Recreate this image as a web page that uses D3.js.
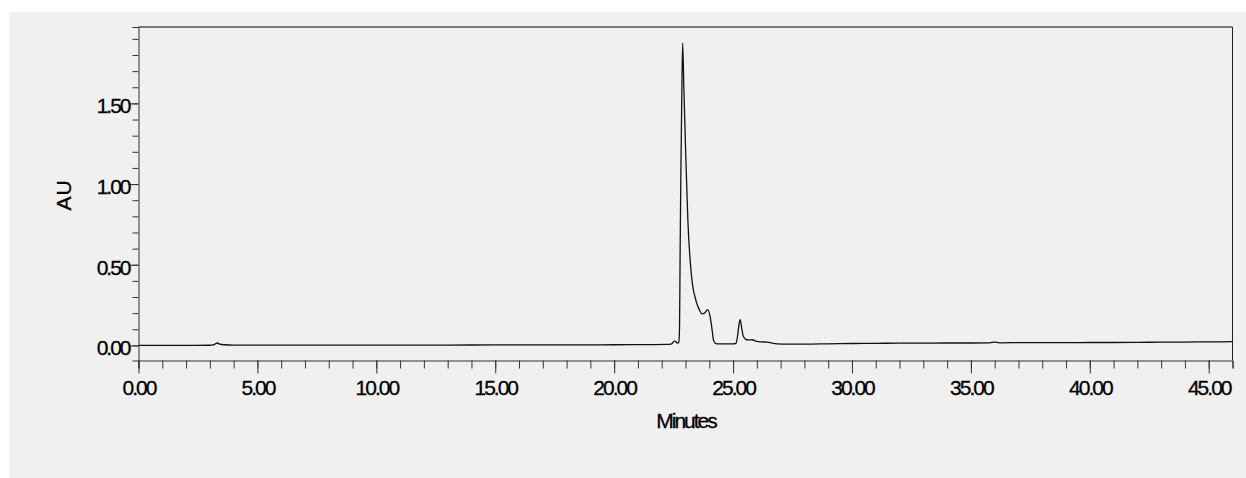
<!DOCTYPE html>
<html>
<head>
<meta charset="utf-8">
<script src="https://cdn.jsdelivr.net/npm/d3@7/dist/d3.min.js"></script>
<style>
html,body{margin:0;padding:0;background:#fff;}
svg{display:block;}
text{font-family:"Liberation Sans",Arial,sans-serif;fill:#000;stroke:#000;stroke-width:0.3px;}
</style>
</head>
<body>
<svg id="chart" width="1246" height="478"></svg>
<script>
// Retention time (minutes) and absorbance (AU)
const times = [0, 1, 2, 3.0, 3.15, 3.25, 3.32, 3.42, 3.6, 4.0, 5, 7, 10, 13, 15, 18, 20, 21.5, 22.2, 22.42, 22.53, 22.6, 22.67, 22.72, 22.75, 22.77, 22.80, 22.84, 22.88, 22.93, 23.01, 23.10, 23.23, 23.31, 23.40, 23.48, 23.58, 23.69, 23.80, 23.93, 24.04, 24.12, 24.18, 24.25, 24.32, 24.6, 25.0, 25.12, 25.20, 25.25, 25.30, 25.35, 25.42, 25.50, 25.56, 25.68, 25.80, 26.0, 26.2, 26.43, 26.65, 26.85, 27.3, 28, 29, 30, 31, 32, 33, 34, 35, 35.8, 36.0, 36.2, 37, 38, 39, 40, 41, 42, 43, 44, 45, 46];
const absorb = [0.000, 0.000, 0.000, 0.001, 0.004, 0.011, 0.015, 0.008, 0.004, 0.002, 0.002, 0.002, 0.002, 0.002, 0.003, 0.003, 0.004, 0.005, 0.006, 0.010, 0.027, 0.022, 0.014, 0.020, 0.120, 0.500, 1.000, 1.500, 1.874, 1.600, 1.186, 0.774, 0.465, 0.361, 0.300, 0.258, 0.222, 0.196, 0.200, 0.222, 0.175, 0.095, 0.031, 0.014, 0.010, 0.009, 0.009, 0.012, 0.070, 0.130, 0.159, 0.120, 0.062, 0.042, 0.035, 0.034, 0.035, 0.025, 0.022, 0.020, 0.014, 0.010, 0.008, 0.008, 0.010, 0.012, 0.013, 0.014, 0.014, 0.015, 0.015, 0.016, 0.021, 0.016, 0.017, 0.017, 0.017, 0.018, 0.018, 0.019, 0.020, 0.021, 0.022, 0.023];
const xMajorTicks = [0, 5, 10, 15, 20, 25, 30, 35, 40, 45];
const xTickLabels = ["0.00", "5.00", "10.00", "15.00", "20.00", "25.00", "30.00", "35.00", "40.00", "45.00"];
const yMajorTicks = [0, 0.5, 1.0, 1.5];
const yTickLabels = ["0.00", "0.50", "1.00", "1.50"];
const xMinorTicks = d3.range(0, 47, 1);
const yMinorTicks = d3.range(0, 20, 1).map(d => d / 10);

const svg = d3.select("#chart");
const W = 1246, H = 478;
const pLeft = 138.5, pTop = 27, pRight = 1232.5, pBottom = 360.5;

svg.append("rect").attr("x", 9).attr("y", 12).attr("width", W - 9).attr("height", H - 12).attr("fill", "#f0f0f0");

const x = d3.scaleLinear().domain([0, 46]).range([pLeft, pRight]);
const y = d3.scaleLinear().domain([-0.0935, 1.9735]).range([pBottom, pTop]);

// frame
svg.append("line").attr("x1", pLeft).attr("x2", pRight).attr("y1", pTop).attr("y2", pTop)
  .attr("stroke", "#7a7a7a").attr("stroke-width", 2);
svg.append("line").attr("x1", pRight).attr("x2", pRight).attr("y1", pTop).attr("y2", pBottom)
  .attr("stroke", "#222").attr("stroke-width", 1);

// X axis
const gx = svg.append("g").attr("transform", `translate(0,${pBottom})`);
gx.call(d3.axisBottom(x).tickValues(xMinorTicks).tickSize(8).tickFormat(""))
  .call(g => g.select(".domain").attr("stroke", "#333"))
  .call(g => g.selectAll(".tick line").attr("stroke", "#333"));
const gx2 = svg.append("g").attr("transform", `translate(0,${pBottom})`);
gx2.call(d3.axisBottom(x).tickValues(xMajorTicks).tickSize(13).tickFormat((d, i) => xTickLabels[i]))
  .call(g => g.select(".domain").remove())
  .call(g => g.selectAll(".tick line").attr("stroke", "#333"))
  .call(g => g.selectAll(".tick text").attr("font-size", 21).attr("letter-spacing", "-2px")
      .attr("fill", "#000").attr("y", 20).attr("dy", "0.71em").attr("font-family", "Liberation Sans, Arial, sans-serif"));

// Y axis
const gy = svg.append("g").attr("transform", `translate(${pLeft},0)`);
gy.call(d3.axisLeft(y).tickValues(yMinorTicks).tickSize(6).tickFormat(""))
  .call(g => g.select(".domain").attr("stroke", "#333"))
  .call(g => g.selectAll(".tick line").attr("stroke", "#333"));
const gy2 = svg.append("g").attr("transform", `translate(${pLeft},0)`);
gy2.call(d3.axisLeft(y).tickValues(yMajorTicks).tickSize(10).tickFormat((d, i) => yTickLabels[i]))
  .call(g => g.select(".domain").remove())
  .call(g => g.selectAll(".tick line").attr("stroke", "#333"))
  .call(g => g.selectAll(".tick text").attr("font-size", 21).attr("letter-spacing", "-2px")
      .attr("fill", "#000").attr("x", -9).attr("dy", "0.45em").attr("font-family", "Liberation Sans, Arial, sans-serif"));

// Axis titles
svg.append("text").attr("x", 686).attr("y", 428).attr("text-anchor", "middle")
  .attr("font-size", 21).attr("letter-spacing", "-2px").text("Minutes");
svg.append("text").attr("transform", "translate(71,195) rotate(-90)").attr("text-anchor", "middle")
  .attr("font-size", 21).attr("letter-spacing", "1px").text("AU");

// Trace
const pts = times.map((t, i) => [t, absorb[i]]);
const line = d3.line().x(d => x(d[0])).y(d => y(d[1])).curve(d3.curveMonotoneX);
svg.append("path").datum(pts).attr("d", line).attr("fill", "none")
  .attr("stroke", "#111").attr("stroke-width", 1.3).attr("stroke-linejoin", "round");
</script>
</body>
</html>
